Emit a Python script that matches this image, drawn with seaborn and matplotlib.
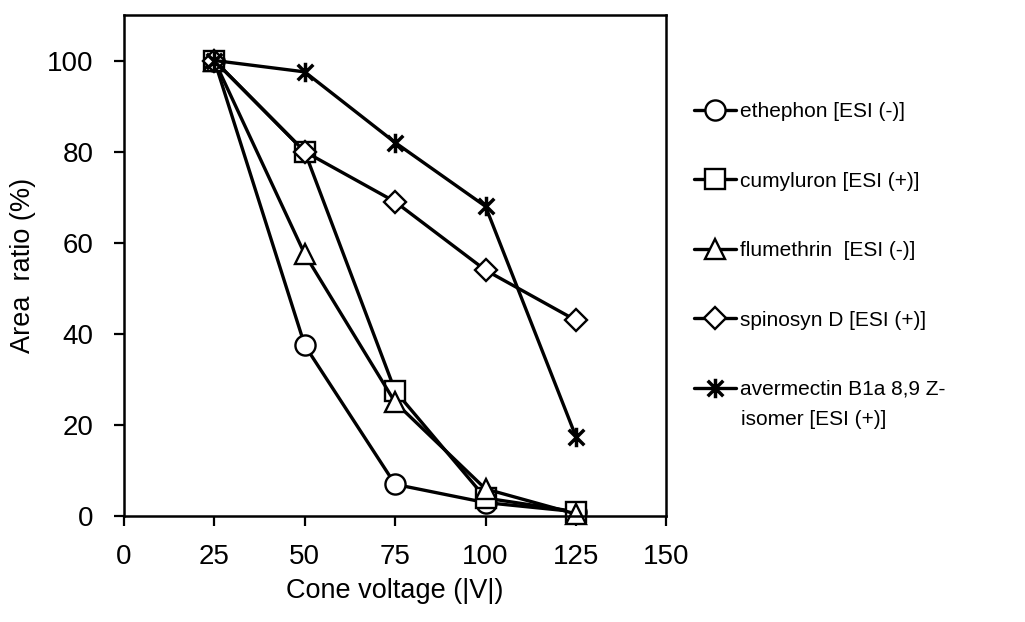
"""Area ratio vs cone voltage for five pesticides (in-source fragmentation)."""

import matplotlib
matplotlib.use("Agg")
import matplotlib.pyplot as plt
import pandas as pd
import seaborn as sns
from matplotlib.path import Path

cone_voltage = [25, 50, 75, 100, 125]

ethephon = [100, 37.5, 7, 3, 1]
cumyluron = [100, 80, 27.5, 4, 1]
flumethrin = [100, 57.5, 25, 6, 0.5]
spinosyn_d = [100, 80, 69, 54, 43]
avermectin = [100, 97.5, 82, 68, 17.5]

labels = [
    "ethephon [ESI (-)]",
    "cumyluron [ESI (+)]",
    "flumethrin  [ESI (-)]",
    "spinosyn D [ESI (+)]",
    "avermectin B1a 8,9 Z-",
]
label_tail = "isomer [ESI (+)]"

x_ticks = [0, 25, 50, 75, 100, 125, 150]
y_ticks = [0, 20, 40, 60, 80, 100]

# Excel-style "star" marker: an X with a vertical bar through it
star = Path(
    [(-1, -1), (1, 1), (-1, 1), (1, -1), (0, -1.25), (0, 1.25)],
    [Path.MOVETO, Path.LINETO, Path.MOVETO, Path.LINETO, Path.MOVETO, Path.LINETO],
)

series = [
    (ethephon, "o", 14.5),
    (cumyluron, "s", 14),
    (flumethrin, "^", 15),
    (spinosyn_d, "D", 11),
    (avermectin, star, 14),
]

sns.set_style("ticks")
plt.rcParams["font.family"] = ["Liberation Sans", "DejaVu Sans"]
for key in ("text.color", "axes.labelcolor", "xtick.color", "ytick.color"):
    plt.rcParams[key] = "black"

fig = plt.figure(figsize=(10.25, 6.22), dpi=100)
ax = fig.add_axes([0.121, 0.170, 0.529, 0.806])

for (values, marker, size), label in zip(series, labels):
    df = pd.DataFrame({"voltage": cone_voltage, "ratio": values})
    filled = marker is not star
    sns.lineplot(
        data=df,
        x="voltage",
        y="ratio",
        ax=ax,
        color="black",
        linewidth=2.4,
        marker=marker,
        markersize=size,
        markerfacecolor="white" if filled else "none",
        markeredgecolor="black",
        markeredgewidth=1.7 if filled else 2.5,
        label=label,
        clip_on=False,
    )

ax.set_xlim(0, 150)
ax.set_ylim(0, 110)
ax.set_xticks(x_ticks)
ax.set_yticks(y_ticks)
ax.tick_params(labelsize=20, length=7, width=1.6, direction="out")
ax.tick_params(axis="y", pad=15)
ax.tick_params(axis="x", pad=13)
for spine in ax.spines.values():
    spine.set_linewidth(1.8)
    spine.set_color("black")

ax.set_xlabel("Cone voltage (|V|)", fontsize=19.5, labelpad=6)
ax.set_ylabel("Area  ratio (%)", fontsize=19.5, labelpad=8)

ax.legend(
    loc="upper left",
    bbox_to_anchor=(0.669, 0.849),
    bbox_transform=fig.transFigure,
    frameon=False,
    fontsize=15,
    handlelength=2.0,
    handletextpad=0.2,
    labelspacing=2.42,
    borderaxespad=0,
)
fig.text(0.723, 0.326, label_tail, fontsize=15, va="center", ha="left")

fig.savefig("out.png", dpi=100)
